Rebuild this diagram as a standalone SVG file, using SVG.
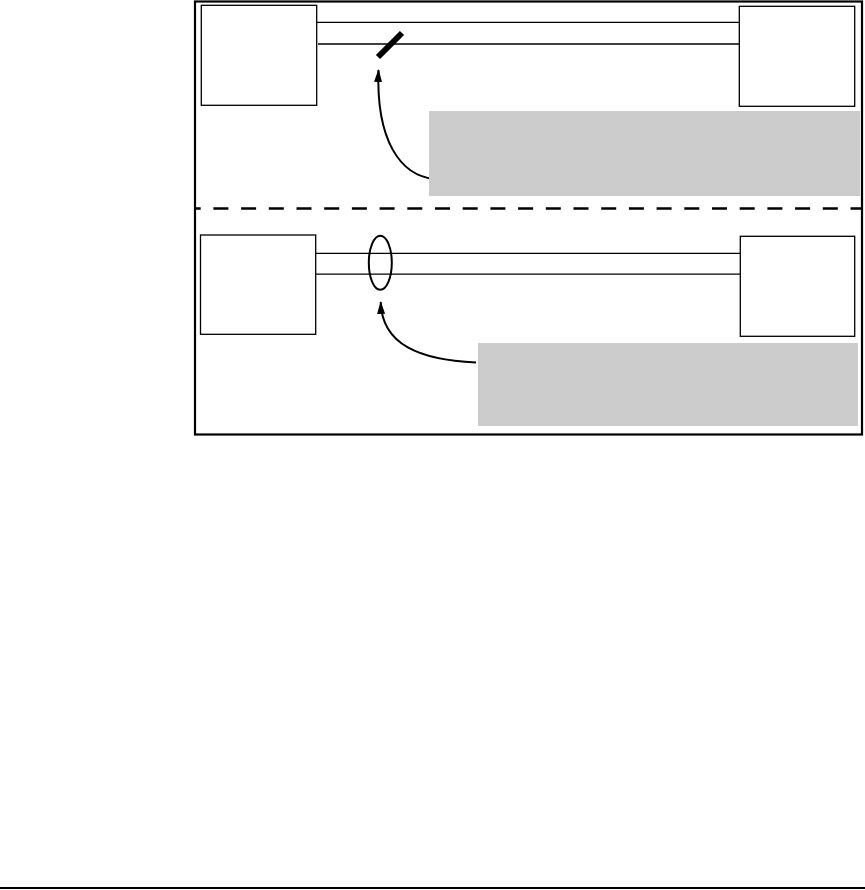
<svg xmlns="http://www.w3.org/2000/svg" width="865" height="890" viewBox="0 0 865 890">
<defs>
<style>
.box{fill:#fff;stroke:#000;stroke-width:1.3}
.note{fill:#ccc;stroke:none}
.wire{stroke:#000;stroke-width:1.3;fill:none}
.arrow{stroke:#000;stroke-width:2;fill:none;marker-end:url(#ah)}
</style>
<marker id="ah" markerWidth="13" markerHeight="9" viewBox="0 0 13 9" refX="12" refY="4.5" orient="auto" markerUnits="userSpaceOnUse">
<path d="M0,0.5 L13,4.5 L0,8.5 Z" fill="#000"/>
</marker>
</defs>
<rect width="865" height="890" fill="#fff"/>
<rect x="195" y="1.5" width="667" height="433" fill="none" stroke="#000" stroke-width="2.2"/>
<line x1="195" y1="208.5" x2="862" y2="208.5" stroke="#000" stroke-width="2.5" stroke-dasharray="15 12.7" stroke-dashoffset="9.3"/>
<line x1="0" y1="888" x2="865" y2="888" stroke="#000" stroke-width="2"/>
<g id="connectors">
<line class="wire" x1="317" y1="22.3" x2="741" y2="22.3"/>
<line class="wire" x1="318" y1="44" x2="741" y2="44"/>
<line x1="378" y1="57" x2="402" y2="33" stroke="#000" stroke-width="6"/>
<path class="arrow" d="M435,179 C400,176 376,140 378.5,70"/>
<line class="wire" x1="316" y1="253.3" x2="740" y2="253.3"/>
<line class="wire" x1="316" y1="274.2" x2="740" y2="274.2"/>
<ellipse cx="380.3" cy="262.7" rx="11.5" ry="27" fill="none" stroke="#000" stroke-width="2"/>
<path class="arrow" d="M476,362.5 C420,360 382,345 380.7,302"/>
</g>
<g id="node-tl"><rect class="box" x="201.3" y="5.3" width="115.4" height="100"/></g>
<g id="node-tr"><rect class="box" x="739.3" y="6.3" width="115.4" height="100"/></g>
<g id="note-top"><rect class="note" x="429" y="111" width="431" height="85"/></g>
<g id="node-bl"><rect class="box" x="200.5" y="235" width="115.2" height="99.3"/></g>
<g id="node-br"><rect class="box" x="740.3" y="236.3" width="114.4" height="100"/></g>
<g id="note-bottom"><rect class="note" x="478" y="343" width="380" height="83"/></g>
</svg>
